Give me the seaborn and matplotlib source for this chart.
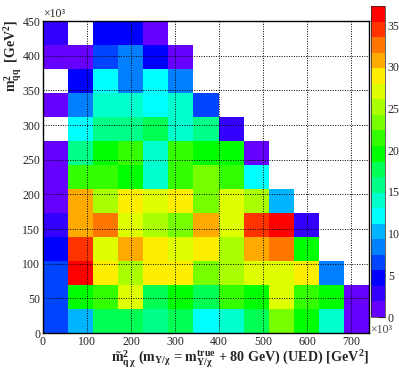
import numpy as np
import pandas as pd
import matplotlib
matplotlib.use("Agg")
import matplotlib.pyplot as plt
from matplotlib.colors import ListedColormap
from matplotlib.ticker import MultipleLocator
import seaborn as sns

# ---------------- data ----------------
x_range = (0, 740)
y_range = (0, 450)
n_bins = 13
z_max = 37.3
z_ticks = [0, 5, 10, 15, 20, 25, 30, 35]
x_ticks = [0, 100, 200, 300, 400, 500, 600, 700]
y_ticks = [0, 50, 100, 150, 200, 250, 300, 350, 400, 450]

# bin contents, rows from bottom (y bin 0) to top (y bin 12); 0 = empty
row00 = [6.5, 10.3, 17.7, 17.7, 15.9, 17.7, 12.1, 14.0, 17.7, 23.3, 19.6, 14.0, 0.9]
row01 = [6.5, 19.6, 21.5, 27.0, 17.7, 19.6, 17.7, 21.5, 19.6, 27.0, 21.5, 19.6, 0.9]
row02 = [6.5, 36.4, 28.9, 25.2, 28.9, 28.9, 23.3, 25.2, 27.0, 27.0, 28.9, 8.4, 0]
row03 = [4.7, 34.5, 27.0, 30.8, 28.9, 27.0, 28.9, 25.2, 30.8, 32.6, 19.6, 0, 0]
row04 = [2.8, 30.8, 32.6, 27.0, 25.2, 23.3, 30.8, 27.0, 34.5, 36.4, 2.8, 0, 0]
row05 = [0.9, 30.8, 25.2, 28.9, 27.0, 28.9, 23.3, 27.0, 25.2, 10.3, 0, 0, 0]
row06 = [0.9, 21.5, 21.5, 19.6, 14.0, 21.5, 23.3, 21.5, 12.1, 0, 0, 0, 0]
row07 = [0.9, 15.9, 19.6, 21.5, 14.0, 21.5, 19.6, 19.6, 0.9, 0, 0, 0, 0]
row08 = [0, 12.1, 15.9, 15.9, 17.7, 14.0, 15.9, 2.8, 0, 0, 0, 0, 0]
row09 = [0.9, 8.4, 14.0, 14.0, 12.1, 14.0, 6.5, 0, 0, 0, 0, 0, 0]
row10 = [0, 4.7, 12.1, 8.4, 12.1, 8.4, 0, 0, 0, 0, 0, 0, 0]
row11 = [0.9, 0.9, 6.5, 8.4, 4.7, 0.9, 0, 0, 0, 0, 0, 0, 0]
row12 = [2.8, 0, 4.7, 4.7, 0.9, 0, 0, 0, 0, 0, 0, 0, 0]
rows = [row00, row01, row02, row03, row04, row05, row06, row07, row08,
        row09, row10, row11, row12]

palette = ["#6600ff", "#3300ff", "#0000ff", "#0044ff", "#0080ff", "#00b4ff",
           "#00ffff", "#00ffcc", "#00ff88", "#00ff55", "#00ff00", "#33ff00",
           "#77ff00", "#aaff00", "#ddff00", "#ffee00", "#ffaa00", "#ff7700",
           "#ff3300", "#ff0000"]

x_label = r"$\tilde{m}^{2}_{q\,\chi}$ (m$_{Y/\chi}$ = m$^{true}_{Y/\chi}$ + 80 GeV) (UED) [GeV$^{2}$]"
y_label = r"m$^{2}_{qq}$  [GeV$^{2}$]"

# ---------------- build long table ----------------
xw = (x_range[1] - x_range[0]) / n_bins
yw = (y_range[1] - y_range[0]) / n_bins
xc = x_range[0] + xw * (np.arange(n_bins) + 0.5)
yc = y_range[0] + yw * (np.arange(n_bins) + 0.5)
recs = []
for j, r in enumerate(rows):
    for i, v in enumerate(r):
        recs.append((xc[i], yc[j], v))
df = pd.DataFrame(recs, columns=["x", "y", "w"])

# ---------------- style ----------------
sns.set_style("white")
plt.rcParams["font.family"] = ["Liberation Serif", "DejaVu Serif"]
plt.rcParams["mathtext.fontset"] = "custom"
plt.rcParams["mathtext.rm"] = "Liberation Serif:bold"
plt.rcParams["mathtext.it"] = "Liberation Serif:bold"
plt.rcParams["mathtext.bf"] = "Liberation Serif:bold"

fig = plt.figure(figsize=(3.99, 3.70), dpi=100)
ax = fig.add_axes([43 / 399, 1 - 333 / 370, (369 - 43) / 399, (333 - 21) / 370])
cax = fig.add_axes([371 / 399, 1 - 317 / 370, 14 / 399, (317 - 6) / 370])

cmap = ListedColormap(palette)

sns.histplot(data=df, x="x", y="y", weights="w", bins=n_bins,
             binrange=(x_range, y_range), cmap=cmap, vmin=0, vmax=z_max,
             cbar=True, cbar_ax=cax, ax=ax)
for coll in ax.collections:
    coll.set_clim(0, z_max)

ax.set_xlim(*x_range)
ax.set_ylim(*y_range)
ax.set_xticks(x_ticks)
ax.set_yticks(y_ticks)
ax.xaxis.set_minor_locator(MultipleLocator(20))
ax.yaxis.set_minor_locator(MultipleLocator(10))
ax.tick_params(which="both", direction="in", top=False, right=False,
               labelsize=8.6, color="black", width=0.8, pad=2)
ax.tick_params(which="major", length=8)
ax.tick_params(which="minor", length=4)
ax.grid(True, which="major", color="black", linestyle=(0, (1, 1.5)), linewidth=0.7)
ax.set_axisbelow(False)
for s in ax.spines.values():
    s.set_color("black")
    s.set_linewidth(1.0)

ax.set_xlabel(x_label, fontsize=10.2, fontweight="bold", loc="right", labelpad=1)
ax.set_ylabel("")
fig.text(13 / 399, 1 - 20 / 370, y_label, fontsize=10, fontweight="bold",
         rotation=90, ha="center", va="top")

cax.set_ylim(0, z_max)
cax.set_yticks(z_ticks)
cax.tick_params(direction="in", length=5, width=0.8, labelsize=8.6,
                right=True, left=False, pad=2)
for s in cax.spines.values():
    s.set_linewidth(0.5)

fig.text(43 / 399, 1 - 17 / 370, "×10³", fontsize=8.5, ha="left", va="baseline")
fig.text(370 / 399, 1 - 333 / 370, "×10³", fontsize=8.5, ha="left", va="baseline",
         color="#444444")

fig.savefig("out.png", dpi=100)
